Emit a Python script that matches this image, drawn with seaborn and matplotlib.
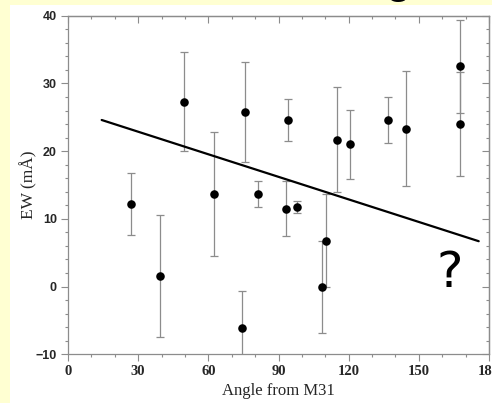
import matplotlib
matplotlib.use("Agg")
import matplotlib.pyplot as plt
from matplotlib.patches import Rectangle
from matplotlib.ticker import MultipleLocator
import seaborn as sns

# Equivalent width measurements versus angular distance from M31
angle = [27.1, 39.3, 49.7, 62.5, 74.2, 75.6, 81.1, 93.0, 94.0, 97.7,
         108.7, 110.3, 115.0, 120.4, 136.8, 144.3, 167.4, 167.4]
ew = [12.2, 1.5, 27.3, 13.7, -6.1, 25.8, 13.7, 11.5, 24.6, 11.7,
      0.0, 6.8, 21.7, 21.0, 24.6, 23.3, 32.5, 24.0]
ew_err = [4.6, 9.0, 7.3, 9.2, 5.5, 7.4, 1.9, 4.1, 3.1, 0.9,
          6.8, 6.8, 7.8, 5.1, 3.4, 8.5, 6.8, 7.7]

# Linear trend line end points
fit_x = [14.4, 175.6]
fit_y = [24.6, 6.7]

x_ticks = [0, 30, 60, 90, 120, 150, 180]
y_ticks = [-10, 0, 10, 20, 30, 40]

sns.set_theme(style="ticks")
plt.rcParams["font.family"] = ["Liberation Serif", "DejaVu Serif"]

W, H = 492, 403
fig = plt.figure(figsize=(W / 100, H / 100), dpi=100, facecolor="#FFFFD2")
fig.add_artist(Rectangle((10 / W, 0), 1, 1 - 5 / H, transform=fig.transFigure,
                         facecolor="white", edgecolor="none", zorder=0))

# partial slide heading glyph along the top edge
fig.text(398 / W, 1 + 7 / H, "g", fontsize=30, ha="center", va="baseline",
         family=["Liberation Sans", "DejaVu Sans"], fontweight="bold", color="black")

ax = fig.add_axes([68 / W, (H - 354.3) / H, (489 - 68) / W, (354.3 - 15.7) / H])
ax.set_facecolor("white")

ax.errorbar(angle, ew, yerr=ew_err, fmt="none", ecolor="#8c8c8c",
            elinewidth=0.9, capsize=2.7, capthick=0.9, zorder=2)
sns.lineplot(x=fit_x, y=fit_y, color="black", linewidth=1.6, ax=ax, zorder=3)
sns.scatterplot(x=angle, y=ew, color="black", s=38, linewidth=0, ax=ax, zorder=4)

ax.set_xlim(0, 180)
ax.set_ylim(-10, 40)
ax.set_xticks(x_ticks)
ax.set_yticks(y_ticks)
ax.xaxis.set_minor_locator(MultipleLocator(10))
ax.yaxis.set_minor_locator(MultipleLocator(2))

spine_col = "#8c8c8c"
for s in ax.spines.values():
    s.set_visible(True)
    s.set_color(spine_col)
    s.set_linewidth(0.9)

ax.tick_params(which="major", direction="out", length=5, width=0.8,
               color=spine_col, pad=3)
ax.tick_params(which="minor", direction="out", length=2.5, width=0.8,
               color=spine_col)
for lab in ax.get_xticklabels():
    lab.set_fontfamily(["Liberation Serif", "DejaVu Serif"])
    lab.set_fontweight("bold")
    lab.set_fontsize(10.5)
for lab in ax.get_yticklabels():
    lab.set_fontfamily(["Liberation Sans", "DejaVu Sans"])
    lab.set_fontweight("bold")
    lab.set_fontsize(9)

# mirrored inward ticks on the top and right edges
top = ax.secondary_xaxis("top")
top.set_xticks(x_ticks)
top.xaxis.set_minor_locator(MultipleLocator(10))
top.tick_params(which="both", direction="in", labeltop=False, color=spine_col, width=0.8)
top.tick_params(which="major", length=5)
top.tick_params(which="minor", length=2.5)
top.spines["top"].set_color(spine_col)
top.spines["top"].set_linewidth(0.9)

right = ax.secondary_yaxis("right")
right.set_yticks(y_ticks)
right.yaxis.set_minor_locator(MultipleLocator(2))
right.tick_params(which="both", direction="in", labelright=False, color=spine_col, width=0.8)
right.tick_params(which="major", length=5)
right.tick_params(which="minor", length=2.5)
right.spines["right"].set_color(spine_col)
right.spines["right"].set_linewidth(0.9)

ax.set_xlabel("Angle from M31", fontsize=12, labelpad=3)
ax.set_ylabel("EW (mÅ)", fontsize=12.5)
ax.yaxis.set_label_coords(-0.072, 0.5)

ax.text(163, 2.0, "?", fontsize=36, ha="center", va="center",
        family=["DejaVu Sans"], color="black")

fig.savefig("out.png", dpi=100, facecolor=fig.get_facecolor())
